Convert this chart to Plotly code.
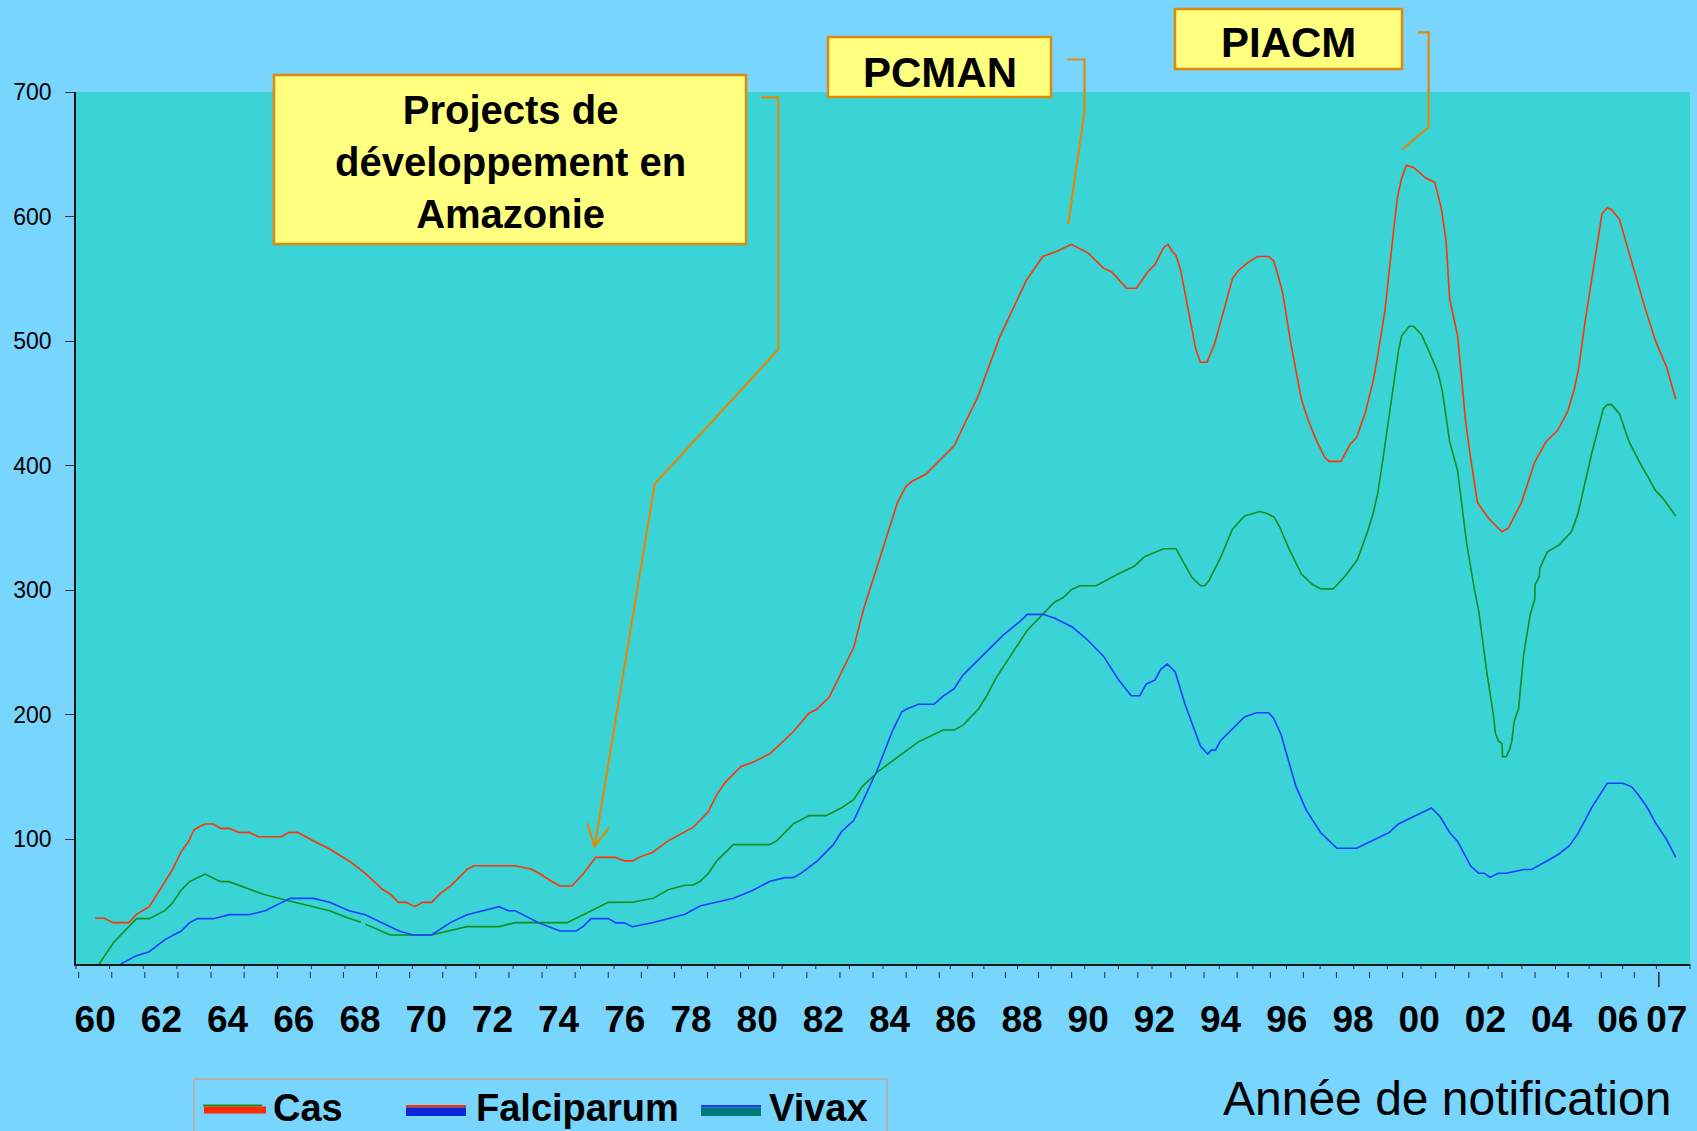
import numpy as np
import plotly.graph_objects as go

# ---------------- data (decimal year, value) ----------------
cas_x = [1960.0, 1960.27, 1960.55, 1961.02, 1961.25, 1961.63, 1961.95, 1962.33, 1962.6, 1962.82, 1962.98,
         1963.14, 1963.33, 1963.57, 1963.79, 1964.06, 1964.33, 1964.65, 1964.92, 1965.62, 1965.86, 1966.11,
         1966.54, 1967.08, 1967.67, 1968.16, 1968.43, 1968.68, 1968.91, 1969.16, 1969.4, 1969.65, 1969.89,
         1970.16, 1970.43, 1970.73, 1971.02, 1971.23, 1971.45, 1972.69, 1973.18, 1973.45, 1973.77, 1974.04,
         1974.4, 1974.74, 1975.12, 1975.71, 1975.98, 1976.23, 1976.46, 1976.83, 1977.31, 1978.05, 1978.52,
         1978.78, 1979.03, 1979.51, 1979.89, 1980.39, 1981.09, 1981.57, 1981.8, 1982.18, 1982.92, 1983.21,
         1983.61, 1983.91, 1984.24, 1984.5, 1984.67, 1985.1, 1985.95, 1986.33, 1986.68, 1986.85, 1987.33,
         1988.13, 1988.63, 1989.06, 1989.49, 1989.99, 1990.46, 1990.72, 1991.16, 1991.46, 1991.79, 1992.02,
         1992.28, 1992.41, 1992.54, 1992.65, 1992.79, 1993.05, 1993.25, 1993.39, 1993.59, 1993.82, 1994.12,
         1994.36, 1994.52, 1994.79, 1995.12, 1995.45, 1995.6, 1995.71, 1995.88, 1996.11, 1996.44, 1996.65,
         1996.91, 1997.15, 1997.28, 1997.64, 1997.91, 1998.11, 1998.37, 1998.61, 1998.74, 1998.97, 1999.21,
         1999.34, 1999.46, 1999.61, 1999.83, 2000.2, 2000.47, 2000.67, 2000.81, 2000.92, 2001.16, 2001.4,
         2001.54, 2001.76, 2002.1, 2002.5, 2002.69, 2003.09, 2003.49, 2003.82, 2004.19, 2004.49, 2004.69,
         2004.82, 2005.02, 2005.39, 2005.52, 2005.68, 2005.81, 2006.05, 2006.42, 2006.81, 2007.14, 2007.48,
         2007.75]
cas_y = [36.7, 36.7, 33.2, 33.2, 39.9, 46.0, 59.4, 75.5, 90.2, 98.2, 107.6,
         110.2, 112.4, 112.4, 108.9, 108.9, 105.7, 105.7, 102.2, 102.2, 105.7, 105.7,
         99.5, 92.3, 82.7, 72.8, 66.1, 60.0, 56.2, 49.5, 49.5, 46.0, 49.5,
         49.5, 56.7, 62.6, 70.1, 76.0, 78.9, 78.9, 76.0, 72.2, 66.6, 62.6,
         62.6, 72.2, 85.6, 85.6, 82.8, 82.8, 86.0, 89.5, 98.8, 109.4, 122.1,
         136.0, 145.6, 158.6, 162.2, 168.9, 186.4, 201.5, 204.5, 214.5, 254.4, 284.6,
         317.8, 343.5, 370.6, 383.6, 387.3, 393.3, 416.0, 437.1, 456.1, 468.8, 503.4,
         548.8, 568.0, 572.2, 577.7, 570.9, 558.6, 555.3, 542.5, 542.5, 555.3, 561.6,
         575.2, 577.7, 572.2, 568.8, 557.4, 521.3, 493.6, 483.0, 483.0, 497.9, 527.6,
         550.2, 556.1, 562.5, 568.0, 568.0, 564.6, 555.3, 538.2, 500.0, 453.3, 436.3,
         419.3, 406.5, 403.5, 403.5, 417.1, 422.7, 442.6, 468.1, 487.2, 525.5, 585.0,
         614.8, 629.7, 641.2, 639.4, 630.9, 627.5, 606.3, 580.7, 534.0, 504.2, 436.2,
         408.6, 370.4, 357.6, 347.0, 349.8, 370.4, 402.8, 418.8, 428.6, 443.9, 461.8,
         478.8, 517.0, 580.7, 602.0, 607.1, 605.5, 597.8, 563.9, 527.7, 500.2, 478.9,
         453.4]

vivax_x = [1960.12, 1960.55, 1961.25, 1961.63, 1962.1, 1962.33, 1962.6, 1962.85, 1963.31, 1963.79, 1964.04,
           1964.65, 1965.08, 1965.62, 1966.6, 1967.08, 1967.62, 1968.03, 1968.1, 1968.16, 1968.91, 1970.16,
           1971.23, 1972.2, 1972.69, 1974.26, 1975.5, 1976.23, 1976.86, 1977.31, 1977.82, 1978.05, 1978.27,
           1978.52, 1978.78, 1979.28, 1980.37, 1980.59, 1981.09, 1981.57, 1982.08, 1982.55, 1982.92, 1983.16,
           1983.66, 1984.87, 1985.62, 1985.95, 1986.21, 1986.68, 1986.93, 1987.21, 1988.16, 1988.99, 1989.25,
           1989.5, 1989.75, 1990.24, 1990.96, 1991.39, 1991.7, 1992.28, 1992.65, 1992.81, 1993.12, 1993.39,
           1993.52, 1993.65, 1993.99, 1994.36, 1994.72, 1995.18, 1995.38, 1995.61, 1995.78, 1996.05, 1996.44,
           1996.78, 1997.04, 1997.4, 1997.77, 1998.13, 1998.44, 1998.61, 1998.74, 1998.9, 1999.17, 1999.34,
           1999.37, 1999.47, 1999.7, 1999.83, 2000.07, 2000.3, 2000.57, 2000.7, 2000.92, 2001.16, 2001.43,
           2001.67, 2001.8, 2002.03, 2002.25, 2002.3, 2002.39, 2002.5, 2002.52, 2002.63, 2002.74, 2002.8,
           2002.87, 2003.0, 2003.16, 2003.36, 2003.49, 2003.5, 2003.63, 2003.64, 2003.87, 2004.23, 2004.6,
           2004.8, 2005.02, 2005.22, 2005.45, 2005.56, 2005.68, 2005.81, 2006.05, 2006.34, 2006.67, 2007.14,
           2007.34, 2007.75]
vivax_y = [0.0, 17.1, 36.4, 36.4, 42.8, 48.7, 59.4, 66.1, 72.2, 66.1, 66.1,
           60.0, 56.0, 52.2, 46.0, 42.8, 37.2, 33.6, None, 32.0, 23.3, 23.3,
           30.0, 30.0, 33.2, 33.2, 49.5, 49.6, 52.7, 59.6, 63.2, 63.2, 66.2,
           72.6, 82.8, 95.8, 95.8, 98.8, 112.5, 119.1, 119.1, 125.4, 132.1, 142.0,
           154.7, 178.3, 187.9, 187.9, 191.5, 204.5, 215.1, 229.3, 268.0, 290.6, 294.2,
           300.6, 303.6, 303.6, 313.9, 319.3, 327.0, 333.4, 333.4, 325.8, 310.9, 303.7,
           303.7, 307.9, 325.8, 349.1, 359.7, 363.2, 361.9, 358.9, 351.2, 334.3, 313.0,
           304.5, 301.1, 301.1, 311.7, 324.5, 347.0, 361.9, 376.8, 404.4, 453.3, 483.1,
           491.6, 504.3, 512.0, 512.0, 505.1, 491.6, 474.6, 459.7, 419.3, 395.9, 338.5,
           300.3, 283.2, 236.5, 198.3, 185.5, 179.1, 177.0, 166.4, 166.4, 172.8, 179.1,
           194.9, 204.6, 249.3, 281.2, 292.6, 304.5, 310.9, 317.3, 330.8, 336.4, 347.0,
           361.9, 387.3, 410.8, 434.1, 445.6, 449.0, 449.0, 441.8, 419.3, 402.3, 380.1,
           374.6, 359.7]

falci_x = [1960.77, 1961.25, 1961.63, 1962.12, 1962.6, 1962.85, 1963.09, 1963.57, 1964.06, 1964.65, 1965.14,
           1965.89, 1966.6, 1967.08, 1967.67, 1968.16, 1969.18, 1969.6, 1970.16, 1970.73, 1971.23, 1972.2,
           1972.48, 1972.69, 1973.39, 1974.04, 1974.53, 1974.74, 1974.98, 1975.5, 1975.73, 1975.98, 1976.23,
           1976.86, 1977.82, 1978.27, 1979.28, 1979.86, 1980.37, 1980.84, 1981.09, 1981.34, 1981.82, 1982.3,
           1982.55, 1982.92, 1983.61, 1984.09, 1984.37, 1984.5, 1984.87, 1985.34, 1985.62, 1985.95, 1986.21,
           1987.43, 1987.93, 1988.16, 1988.63, 1988.99, 1989.2, 1989.52, 1989.99, 1990.46, 1990.92, 1991.3,
           1991.56, 1991.75, 1992.02, 1992.19, 1992.39, 1992.63, 1992.92, 1993.39, 1993.61, 1993.72, 1993.85,
           1993.99, 1994.72, 1995.08, 1995.45, 1995.6, 1995.82, 1996.27, 1996.58, 1997.02, 1997.51, 1998.11,
           1998.64, 1999.1, 1999.37, 2000.37, 2000.63, 2000.92, 2001.16, 2001.56, 2001.8, 2001.96, 2002.14,
           2002.39, 2002.63, 2003.16, 2003.4, 2004.19, 2004.54, 2004.8, 2005.22, 2005.52, 2005.68, 2006.15,
           2006.42, 2006.62, 2006.88, 2007.14, 2007.48, 2007.75]
falci_y = [0.0, 6.7, 9.9, 19.8, 26.5, 33.2, 36.4, 36.4, 39.6, 39.6, 42.8,
           52.7, 52.7, 49.5, 42.8, 39.6, 26.5, 23.3, 23.3, 33.2, 39.6, 46.0,
           42.8, 42.8, 33.2, 26.5, 26.5, 30.0, 36.4, 36.4, 33.0, 33.0, 29.9,
           33.3, 40.0, 46.6, 52.7, 59.0, 66.2, 69.3, 69.3, 73.1, 82.8, 95.8,
           106.4, 115.4, 154.7, 187.4, 202.5, 204.5, 208.5, 208.5, 215.1, 221.1, 231.7,
           264.0, 274.8, 280.7, 280.7, 277.6, 274.8, 270.5, 259.9, 247.1, 228.0, 215.3,
           215.3, 224.6, 228.0, 236.5, 240.8, 234.4, 208.9, 174.9, 168.5, 171.7, 171.9,
           179.1, 198.3, 201.7, 201.7, 197.4, 184.6, 143.0, 123.9, 105.6, 92.9, 92.9,
           99.7, 105.6, 112.4, 125.2, 118.4, 105.6, 98.4, 78.4, 72.9, 72.9, 69.5,
           72.9, 72.9, 75.9, 75.9, 87.7, 95.0, 104.8, 126.0, 138.8, 145.1, 145.1,
           142.2, 135.8, 126.0, 113.3, 99.7, 85.6]

label_years = [1960, 1962, 1964, 1966, 1968, 1970, 1972, 1974, 1976, 1978, 1980, 1982, 1984, 1986,
               1988, 1990, 1992, 1994, 1996, 1998, 2000, 2002, 2004, 2006, 2007.48]
label_text = ["60", "62", "64", "66", "68", "70", "72", "74", "76", "78", "80", "82", "84", "86",
              "88", "90", "92", "94", "96", "98", "00", "02", "04", "06", "07"]
y_ticks = [100, 200, 300, 400, 500, 600, 700]

# ---------------- geometry helpers ----------------
W, H = 1697, 1131
L, R, T, B = 76, 1690, 92, 964
PX_PER_YEAR = 33.1
X0_PX = 95.2
x_min = 1960 + (L - X0_PX) / PX_PER_YEAR
x_max = 1960 + (R - X0_PX) / PX_PER_YEAR


def fx(p):
    return (p - L) / (R - L)


def fy(p):
    return (B - p) / (B - T)


def yr2paper(yv):
    return (yv - x_min) / (x_max - x_min)


FONT = "Liberation Sans, Arial, sans-serif"
ORANGE = "#E0890A"

fig = go.Figure()
fig.add_trace(go.Scatter(x=cas_x, y=cas_y, name="Cas", mode="lines",
                         line=dict(color="#FF3300", width=1.6)))
fig.add_trace(go.Scatter(x=vivax_x, y=vivax_y, name="Vivax", mode="lines", connectgaps=False,
                         line=dict(color="#0E8F1E", width=1.6)))
fig.add_trace(go.Scatter(x=falci_x, y=falci_y, name="Falciparum", mode="lines",
                         line=dict(color="#1A3CFF", width=1.6)))

shapes = []
annotations = []

# x-axis tick rows (decoration)
for p in np.linspace(L, R, 49):
    shapes.append(dict(type="line", xref="paper", yref="paper", x0=fx(p), x1=fx(p),
                       y0=fy(964), y1=fy(969), line=dict(color="#2a2a2a", width=1)))
for k in range(48):
    xv = yr2paper(1959.5 + k)
    shapes.append(dict(type="line", xref="paper", yref="paper", x0=xv, x1=xv,
                       y0=fy(972), y1=fy(978), line=dict(color="#2a2a2a", width=1)))
xv = yr2paper(2007.24)
shapes.append(dict(type="line", xref="paper", yref="paper", x0=xv, x1=xv,
                   y0=fy(972), y1=fy(987), line=dict(color="#2a2a2a", width=1.5)))


def path(points):
    return "M " + " L ".join(f"{fx(a):.5f},{fy(b):.5f}" for a, b in points)


def box(x0, y0, x1, y1):
    shapes.append(dict(type="rect", xref="paper", yref="paper", x0=fx(x0), x1=fx(x1),
                       y0=fy(y1), y1=fy(y0), fillcolor="#FFFF80",
                       line=dict(color=ORANGE, width=2.5)))


def connector(points):
    shapes.append(dict(type="path", xref="paper", yref="paper", path=path(points),
                       line=dict(color=ORANGE, width=2.2)))


# callout 1
box(274, 75, 746, 244)
connector([(761, 97.4), (778.2, 97.4), (778.2, 349.6), (654.8, 483.8), (594.6, 846.7)])
connector([(587.4, 823.3), (594.6, 846.7), (609.2, 827.3)])
annotations.append(dict(xref="paper", yref="paper", x=fx(510), y=fy(162), xanchor="center",
                        yanchor="middle", showarrow=False,
                        text="Projects de<br>développement en<br>Amazonie",
                        font=dict(family=FONT, size=40, color="black", weight="bold")))
# callout 2
box(828, 37, 1051, 97)
connector([(1067.2, 59.5), (1084.5, 59.5), (1084.5, 111.5), (1068.2, 224)])
annotations.append(dict(xref="paper", yref="paper", x=fx(940), y=fy(72), xanchor="center",
                        yanchor="middle", showarrow=False, text="PCMAN",
                        font=dict(family=FONT, size=42, color="black", weight="bold")))
# callout 3
box(1175, 9, 1402, 69)
connector([(1417.7, 32.3), (1428.7, 32.3), (1428.7, 127), (1402.3, 149.3)])
annotations.append(dict(xref="paper", yref="paper", x=fx(1288), y=fy(43), xanchor="center",
                        yanchor="middle", showarrow=False, text="PIACM",
                        font=dict(family=FONT, size=42, color="black", weight="bold")))

# axis title
annotations.append(dict(xref="paper", yref="paper", x=fx(1673), y=fy(1098), xanchor="right",
                        yanchor="middle", showarrow=False, text="Année de notification",
                        font=dict(family=FONT, size=48, color="black")))

# manual legend
shapes.append(dict(type="rect", xref="paper", yref="paper", x0=fx(194), x1=fx(887),
                   y0=fy(1145), y1=fy(1079), fillcolor="rgba(0,0,0,0)",
                   line=dict(color="#B0B0B0", width=2)))


def bar(x0, x1, y0, y1, color):
    shapes.append(dict(type="rect", xref="paper", yref="paper", x0=fx(x0), x1=fx(x1),
                       y0=fy(y1), y1=fy(y0), fillcolor=color, line=dict(width=0)))


bar(203, 262, 1104.5, 1106.5, "#1A8F1A")
bar(204, 266, 1106.5, 1113.5, "#FF2A00")
bar(406, 466, 1105, 1107.5, "#FF3300")
bar(406, 466, 1107.5, 1116, "#0A28D8")
bar(701, 761, 1105, 1107.5, "#1A3CFF")
bar(701, 761, 1107.5, 1116, "#007A78")
for txt, xp in [("Cas", 271), ("Falciparum", 474), ("Vivax", 767)]:
    annotations.append(dict(xref="paper", yref="paper", x=fx(xp), y=fy(1108), xanchor="left",
                            yanchor="middle", showarrow=False, text=txt,
                            font=dict(family=FONT, size=38, color="black", weight="bold")))

fig.update_layout(
    width=W, height=H, autosize=False,
    margin=dict(l=L, r=W - R, t=T, b=H - B, pad=0),
    paper_bgcolor="#78D5FE", plot_bgcolor="#3AD4D6",
    showlegend=False,
    shapes=shapes, annotations=annotations,
    xaxis=dict(range=[x_min, x_max], showgrid=False, zeroline=False, showline=True,
               linecolor="#1a1a1a", linewidth=2, tickmode="array", tickvals=label_years,
               ticktext=label_text, ticks="", ticklabelstandoff=22,
               tickfont=dict(family=FONT, size=37, color="black", weight="bold")),
    yaxis=dict(range=[0, 700], showgrid=False, zeroline=False, showline=True,
               linecolor="#111111", linewidth=1.5, tickmode="array", tickvals=y_ticks,
               ticks="outside", ticklen=9, tickcolor="#333333", ticklabelstandoff=9,
               tickfont=dict(family=FONT, size=23, color="black")),
)

fig.write_html("out.html", config={"displayModeBar": False},
               post_script="document.body.style.margin='0px';document.body.style.overflow='hidden';")
